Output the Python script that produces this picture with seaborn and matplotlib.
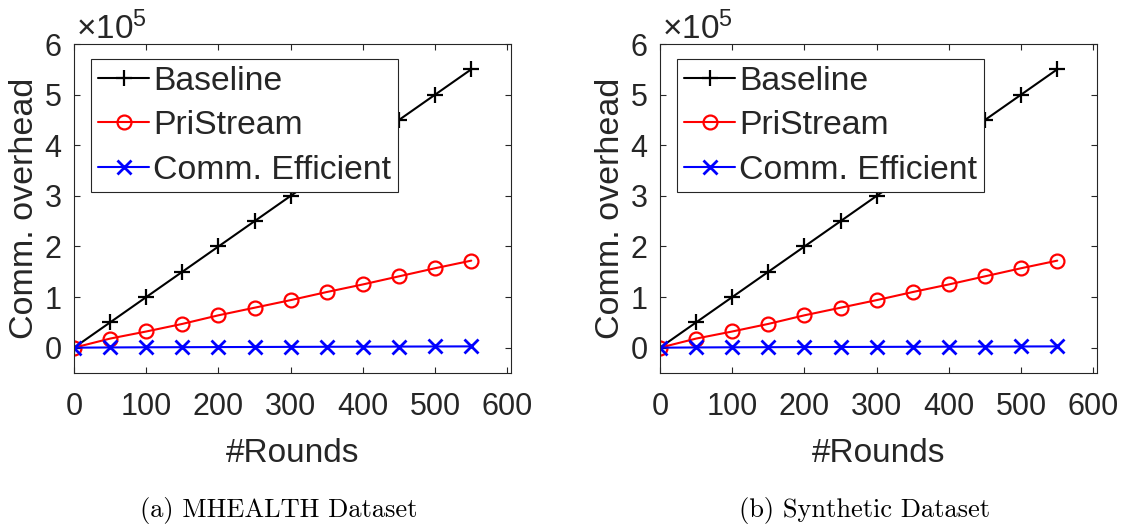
import numpy as np
import pandas as pd
import matplotlib
matplotlib.use("Agg")
import matplotlib.pyplot as plt
import seaborn as sns

rounds = [0, 50, 100, 150, 200, 250, 300, 350, 400, 450, 500, 550]
baseline = [0, 50000, 100000, 150000, 200000, 250000, 300000, 350000, 400000, 450000, 500000, 550000]
pristream = [0, 18000, 32000, 47000, 64000, 79000, 94000, 110000, 125000, 141000, 157000, 172000]
comm_eff = [0, 500, 800, 1000, 1200, 1400, 1600, 1800, 2000, 2200, 2400, 2600]
series_names = ["Baseline", "PriStream", "Comm. Efficient"]
captions = ["(a) MHEALTH Dataset", "(b) Synthetic Dataset"]
x_ticks = [0, 100, 200, 300, 400, 500, 600]
y_ticks = [0, 1, 2, 3, 4, 5, 6]

sns.set_theme(style="white")
plt.rcParams["font.family"] = ["Liberation Sans", "DejaVu Sans"]
plt.rcParams["mathtext.fontset"] = "custom"
plt.rcParams["mathtext.rm"] = "Liberation Sans"
plt.rcParams["mathtext.it"] = "Liberation Sans"

styles = [
    dict(color="black", marker="+", markersize=12, markeredgewidth=1.6),
    dict(color="red", marker="o", markersize=10, markeredgewidth=1.6, markerfacecolor="none"),
    dict(color="blue", marker="x", markersize=10, markeredgewidth=2.0),
]
data_sets = [baseline, pristream, comm_eff]

fig = plt.figure(figsize=(11.25, 5.31), dpi=100)
ax_lefts = [74 / 1125, 660 / 1125]
ax_w = 437 / 1125
ax_b = (531 - 373) / 531
ax_h = 329 / 531
gray = "#262626"

for i in range(2):
    ax = fig.add_axes([ax_lefts[i], ax_b, ax_w, ax_h])
    for name, vals, st in zip(series_names, data_sets, styles):
        df = pd.DataFrame({"x": rounds, "y": vals})
        sns.lineplot(data=df, x="x", y="y", ax=ax, label=name, linewidth=1.5,
                     color=st["color"], marker=st["marker"], markersize=st["markersize"],
                     markeredgewidth=st["markeredgewidth"], markeredgecolor=st["color"],
                     markerfacecolor=st.get("markerfacecolor", st["color"]))
    ax.set_xlim(0, 605)
    ax.set_ylim(-0.5e5, 6e5)
    ax.set_xticks(x_ticks)
    ax.set_xticklabels([str(t) for t in x_ticks])
    ax.set_yticks([t * 1e5 for t in y_ticks])
    ax.set_yticklabels([str(t) for t in y_ticks])
    ax.tick_params(direction="in", length=4, width=0.8, colors=gray, labelsize=22,
                   top=True, right=True, bottom=True, left=True)
    ax.tick_params(axis="x", pad=14)
    ax.tick_params(axis="y", pad=9)
    for sp in ax.spines.values():
        sp.set_color(gray)
        sp.set_linewidth(0.8)
    ax.set_xlabel("#Rounds", fontsize=24, color=gray, labelpad=11)
    ax.set_ylabel("Comm. overhead", fontsize=24.5, color=gray, labelpad=3)
    ax.text(0.005, 0.995, r"$\times10^{5}$", transform=ax.transAxes, fontsize=24,
            color=gray, ha="left", va="bottom")
    leg = ax.legend(loc="upper left", bbox_to_anchor=(0.04, 0.955), fontsize=24.3,
                    frameon=True, fancybox=False, framealpha=1, edgecolor=gray,
                    handlelength=1.5, handletextpad=0.12, labelspacing=0.4,
                    borderpad=0.2, borderaxespad=0.0)
    leg.get_frame().set_linewidth(0.8)
    fig.text(ax_lefts[i] + ax_w / 2 - 14 / 1125, 20 / 531, captions[i], fontsize=19,
             family="cmr10", ha="center", va="center", color="black")

fig.savefig("out.png", dpi=100)
